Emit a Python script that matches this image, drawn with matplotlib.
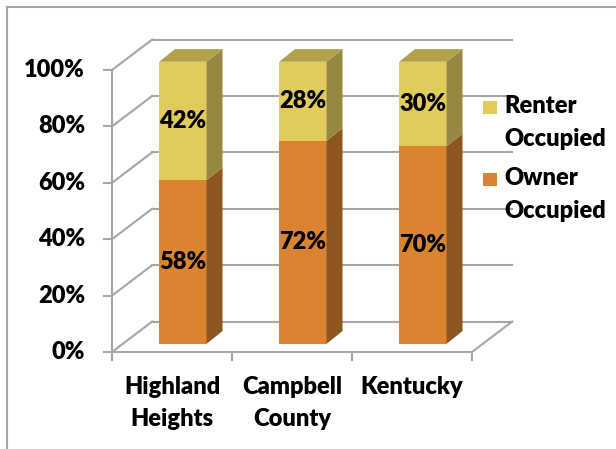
import matplotlib
matplotlib.use("Agg")
import matplotlib.pyplot as plt
from matplotlib.patches import Polygon, Rectangle
from matplotlib.lines import Line2D

plt.rcParams['font.family'] = ['Lato', 'DejaVu Sans']
plt.rcParams['font.weight'] = 'heavy'

# data
places = ["Highland\nHeights", "Campbell\nCounty", "Kentucky"]
series = ["Owner\nOccupied", "Renter\nOccupied"]
owner = [58, 72, 70]
renter = [42, 28, 30]
yticks = [0, 20, 40, 60, 80, 100]

front_col = ["#DA8431", "#E1CB5B"]
side_col = ["#8C5620", "#978841"]
top_col = ["#B06B28", "#B2A14A"]
grid_col = "#A6A6A6"

W, H, DPI = 616, 449, 100
FS = 17
# pixel layout of the front plane
X0, Y0 = 112, 352      # front-left corner of the floor
CAT_PX = 120.0         # one category
PCT_PX = 2.82          # one percent

# oblique depth of the box (category units, percent)
DX, DY = 0.335, 10.8
# bars sit part way into the box
BX, BY = 0.27 * DX, 0.27 * DY
BDX, BDY = 0.133, 4.5
BW = 0.395

fig = plt.figure(figsize=(W / DPI, H / DPI), dpi=DPI)
ax = fig.add_axes([0, 0, 1, 1])
ax.set_xlim(-0.5 - X0 / CAT_PX, -0.5 + (W - X0) / CAT_PX)
ax.set_ylim(-(H - Y0) / PCT_PX, Y0 / PCT_PX)
ax.axis("off")

lw = 1.5
n = len(places)
left, right = -0.5, n - 0.5

# walls: side-wall diagonals and back-wall lines
for v in yticks:
    ax.plot([left, left + DX], [v, v + DY], color=grid_col, lw=lw, zorder=1)
    ax.plot([left + DX, right + DX], [v + DY, v + DY], color=grid_col, lw=lw, zorder=1)
    ax.plot([left - 8 / CAT_PX, left], [v, v], color=grid_col, lw=lw, zorder=1)
    ax.text(left - 27 / CAT_PX, v, f"{v}%", ha="right", va="center", fontsize=FS)

# floor and axes
ax.plot([left, right], [0, 0], color=grid_col, lw=lw, zorder=1)
ax.plot([right, right + DX], [0, DY], color=grid_col, lw=lw, zorder=1)
ax.plot([left, left], [0, 100], color=grid_col, lw=lw, zorder=1)
for k in range(n + 1):
    xk = left + k
    ax.plot([xk, xk], [0, -8 / PCT_PX], color=grid_col, lw=lw, zorder=1)

for i, name in enumerate(places):
    ax.text(i, -8.4, name, ha="center", va="top", fontsize=FS,
            linespacing=1.6, multialignment="center")

# stacked 3d-looking bars
stack = [owner, renter]
for i in range(n):
    base = 0
    x0 = i + BX - BW / 2
    x1 = i + BX + BW / 2
    for s, vals in enumerate(stack):
        v = vals[i]
        ax.bar(i + BX, v, width=BW, bottom=BY + base, color=front_col[s],
               linewidth=0, zorder=3)
        b, t = BY + base, BY + base + v
        ax.add_patch(Polygon([(x1, b), (x1 + BDX, b + BDY), (x1 + BDX, t + BDY), (x1, t)],
                             closed=True, facecolor=side_col[s], edgecolor="none", zorder=3))
        if s == len(stack) - 1:
            ax.add_patch(Polygon([(x0, t), (x1, t), (x1 + BDX, t + BDY), (x0 + BDX, t + BDY)],
                                 closed=True, facecolor=top_col[s], edgecolor="none", zorder=3))
        ax.text(i + BX, BY + base + v / 2, f"{v}%", ha="center", va="center",
                fontsize=FS, zorder=4)
        base += v

# legend, renter entry first
for k, s in enumerate([1, 0]):
    ytop = 101 + k * 72
    fig.patches.append(Rectangle((483 / W, 1 - (ytop + 13) / H), 14 / W, 13 / H,
                                 transform=fig.transFigure, facecolor=front_col[s],
                                 edgecolor="none"))
    fig.text(504 / W, 1 - (ytop - 6) / H, series[s], ha="left", va="top",
             fontsize=FS, linespacing=1.6)

# chart frame
fig.add_artist(Line2D([7 / W, 7 / W], [0, 1 - 7 / H], transform=fig.transFigure,
                      color=grid_col, lw=1.5))
fig.add_artist(Line2D([7 / W, 1], [1 - 7 / H, 1 - 7 / H], transform=fig.transFigure,
                      color=grid_col, lw=1.5))

fig.savefig("out.png", dpi=DPI)
